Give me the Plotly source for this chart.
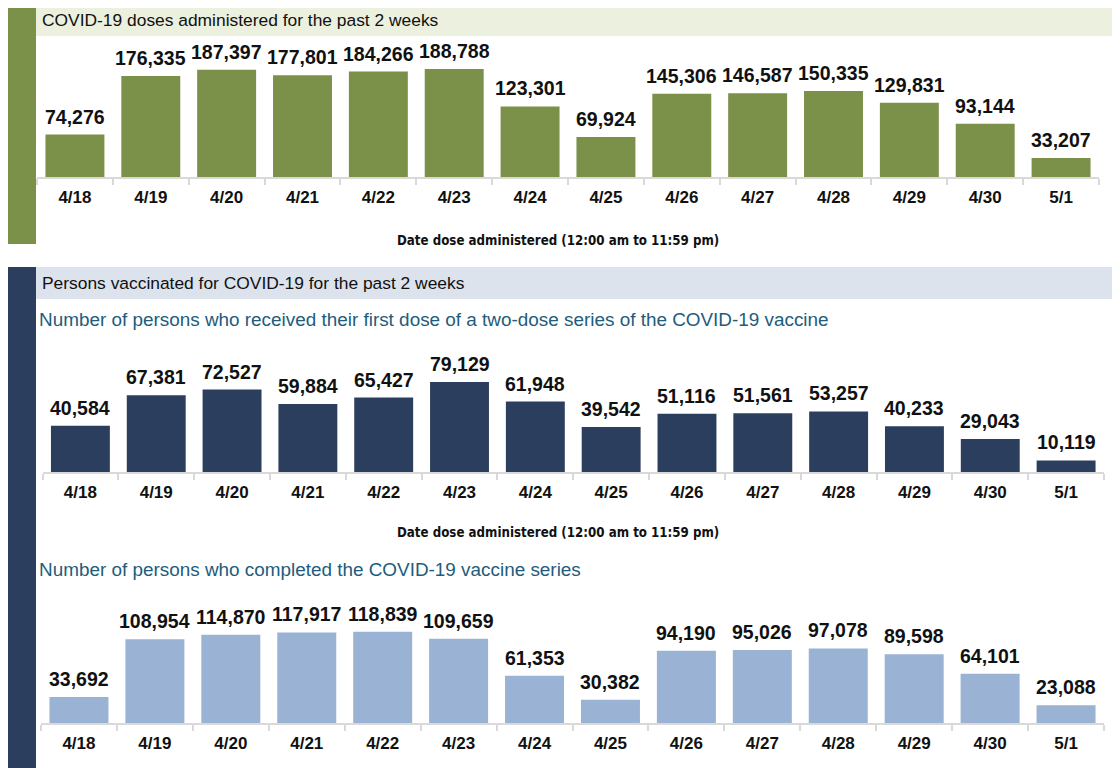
import plotly.graph_objects as go

# ---------------- data ----------------
dates = ["4/18", "4/19", "4/20", "4/21", "4/22", "4/23", "4/24",
         "4/25", "4/26", "4/27", "4/28", "4/29", "4/30", "5/1"]
doses_administered = [74276, 176335, 187397, 177801, 184266, 188788, 123301,
                      69924, 145306, 146587, 150335, 129831, 93144, 33207]
first_dose = [40584, 67381, 72527, 59884, 65427, 79129, 61948,
              39542, 51116, 51561, 53257, 40233, 29043, 10119]
completed_series = [33692, 108954, 114870, 117917, 118839, 109659, 61353,
                    30382, 94190, 95026, 97078, 89598, 64101, 23088]

title_doses = "COVID-19 doses administered for the past 2 weeks"
title_persons = "Persons vaccinated for COVID-19 for the past 2 weeks"
subtitle_first = "Number of persons who received their first dose of a two-dose series of the COVID-19 vaccine"
subtitle_complete = "Number of persons who completed the COVID-19 vaccine series"
axis_title = "Date dose administered (12:00 am to 11:59 pm)"

# ---------------- style ----------------
OFF = 8  # page body margin
W, H = 1120 - OFF, 768 - OFF
GREEN = "#7B9048"
GREEN_BAND = "#EBF0DF"
NAVY = "#2C3E5D"
BLUE_BAND = "#DCE3ED"
LIGHT_BLUE = "#9AB2D4"
SUB_COLOR = "#225C7C"
AXIS_GRAY = "#D9D9D9"

BOLD = "Liberation Sans, Arial, sans-serif"
NARROW = "DejaVu Sans Condensed, Liberation Sans Narrow, sans-serif"
REG = "Liberation Sans, Arial, sans-serif"


def px_x(x):
    return (x - OFF) / W


def px_y(y):
    return 1 - (y - OFF) / H


# panel specs: (values, color, x0px, x1px, baseline px, top px, px-per-unit)
panels = [
    (doses_administered, GREEN, 37, 1099, 177, 40, 108 / 188788),
    (first_dose, NAVY, 42.5, 1104, 472, 340, 90 / 79129),
    (completed_series, LIGHT_BLUE, 41, 1104, 723, 600, 91.3 / 118839),
]

fig = go.Figure()
annotations = []
layout_axes = {}

for i, (vals, col, x0, x1, base, top, scale) in enumerate(panels, start=1):
    xa = "x" if i == 1 else f"x{i}"
    ya = "y" if i == 1 else f"y{i}"
    fig.add_trace(go.Bar(
        x=dates, y=vals, marker=dict(color=col, line=dict(width=0)),
        xaxis=xa, yaxis=ya, hoverinfo="x+y", showlegend=False,
    ))
    ymax = (base - top) / scale
    xkey = "xaxis" if i == 1 else f"xaxis{i}"
    ykey = "yaxis" if i == 1 else f"yaxis{i}"
    layout_axes[xkey] = dict(
        domain=[px_x(x0), px_x(x1)], anchor=ya, type="category",
        showline=True, linecolor=AXIS_GRAY, linewidth=2,
        ticks="outside", tickson="boundaries", ticklen=6, tickcolor=AXIS_GRAY,
        tickwidth=1.5, showgrid=False, zeroline=False,
        tickfont=dict(family=BOLD, size=17, color="#111111", weight="bold"),
        ticklabelstandoff=4,
    )
    layout_axes[ykey] = dict(
        domain=[px_y(base), px_y(top)], anchor=xa, range=[0, ymax],
        visible=False, showgrid=False, zeroline=False,
    )
    for d, v in zip(dates, vals):
        annotations.append(dict(
            x=d, y=v, xref=xa, yref=ya, text=f"{v:,}", showarrow=False,
            yanchor="bottom", xanchor="center", yshift=5,
            font=dict(family=BOLD, size=19.5, color="#111111", weight="bold"),
        ))

# section headers & text
shapes = [
    dict(type="rect", xref="paper", yref="paper", x0=px_x(3), x1=px_x(36),
         y0=px_y(244), y1=px_y(4), fillcolor=GREEN, line=dict(width=0), layer="below"),
    dict(type="rect", xref="paper", yref="paper", x0=px_x(36), x1=px_x(1120),
         y0=px_y(36), y1=px_y(4), fillcolor=GREEN_BAND, line=dict(width=0), layer="below"),
    dict(type="rect", xref="paper", yref="paper", x0=px_x(3), x1=px_x(36),
         y0=px_y(768), y1=px_y(267), fillcolor=NAVY, line=dict(width=0), layer="below"),
    dict(type="rect", xref="paper", yref="paper", x0=px_x(36), x1=px_x(1120),
         y0=px_y(299), y1=px_y(267), fillcolor=BLUE_BAND, line=dict(width=0), layer="below"),
]

text_items = [
    (title_doses, 40, 20, REG, 17.4, "#111111", "left"),
    (title_persons, 40, 283, REG, 17.4, "#111111", "left"),
    (subtitle_first, 37, 320, REG, 18.9, SUB_COLOR, "left"),
    (subtitle_complete, 37, 569, REG, 18.9, SUB_COLOR, "left"),
]
for txt, x, y, fam, sz, colr, anc in text_items:
    annotations.append(dict(
        x=px_x(x), y=px_y(y), xref="paper", yref="paper", text=txt,
        showarrow=False, xanchor=anc, yanchor="middle",
        font=dict(family=fam, size=sz, color=colr),
    ))

for y in (240, 532):
    annotations.append(dict(
        x=px_x(558), y=px_y(y), xref="paper", yref="paper", text=axis_title,
        showarrow=False, xanchor="center", yanchor="middle",
        font=dict(family=NARROW, size=13.2, color="#111111", weight="bold"),
    ))

fig.update_layout(
    width=W, height=H, margin=dict(l=0, r=0, t=0, b=0),
    paper_bgcolor="white", plot_bgcolor="white",
    bargap=0.223, shapes=shapes, annotations=annotations,
    **layout_axes,
)

fig.write_html("out.html")
